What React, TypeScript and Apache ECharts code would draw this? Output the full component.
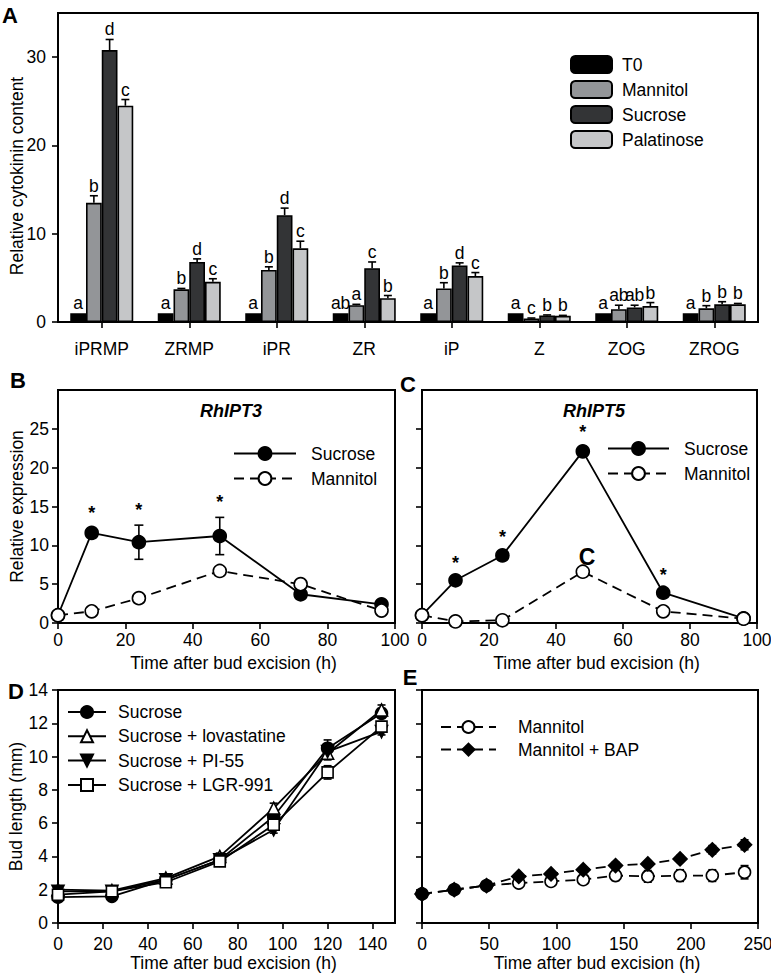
import React, { useEffect, useRef } from 'react';
import * as echarts from 'echarts';

const FONT = '"Liberation Sans", Arial, Helvetica, sans-serif';

// ---- Panel A : cytokinin content ----
const cytokinins = ['iPRMP', 'ZRMP', 'iPR', 'ZR', 'iP', 'Z', 'ZOG', 'ZROG'];
const t0Content = [1, 1, 1, 1, 1, 1, 1, 1];
const mannitolContent = [13.5, 3.7, 5.9, 1.9, 3.8, 0.4, 1.45, 1.55];
const sucroseContent = [30.8, 6.8, 12.1, 6.1, 6.4, 0.75, 1.65, 2.0];
const palatinoseContent = [24.5, 4.55, 8.35, 2.7, 5.2, 0.7, 1.8, 2.0];
const t0Err = [0, 0, 0, 0, 0, 0, 0, 0];
const mannitolErr = [0.8, 0.1, 0.35, 0.1, 0.65, 0.05, 0.45, 0.3];
const sucroseErr = [1.2, 0.35, 0.8, 0.7, 0.3, 0.05, 0.25, 0.3];
const palatinoseErr = [0.7, 0.35, 0.8, 0.3, 0.4, 0.05, 0.4, 0.1];
const t0Letters = ['a', 'a', 'a', 'ab', 'a', 'a', 'a', 'a'];
const mannitolLetters = ['b', 'b', 'b', 'a', 'b', 'c', 'ab', 'b'];
const sucroseLetters = ['d', 'd', 'd', 'c', 'd', 'b', 'ab', 'b'];
const palatinoseLetters = ['c', 'c', 'c', 'b', 'c', 'b', 'b', 'b'];
const contentTicks = [0, 10, 20, 30];

// ---- Panels B, C : expression ----
const timesBC = [0, 10, 24, 48, 72, 96];
const ipt3Sucrose = [1, 11.6, 10.4, 11.2, 3.7, 2.4];
const ipt3SucroseErr = [0, 0.6, 2.2, 2.4, 0.3, 0.2];
const ipt3Mannitol = [1, 1.5, 3.2, 6.7, 5.0, 1.6];
const ipt3MannitolErr = [0, 0.2, 0.3, 0.3, 0.3, 0.2];
const ipt3Stars = [10, 24, 48];
const ipt5Sucrose = [1, 5.5, 8.7, 22.1, 3.9, 0.6];
const ipt5SucroseErr = [0, 0.3, 0.4, 0.6, 0.3, 0.1];
const ipt5Mannitol = [1, 0.2, 0.35, 6.6, 1.5, 0.55];
const ipt5MannitolErr = [0, 0.05, 0.1, 0.3, 0.2, 0.1];
const ipt5Stars = [10, 24, 48, 72];
const exprTicks = [0, 5, 10, 15, 20, 25];

// ---- Panel D : bud length ----
const timesD = [0, 24, 48, 72, 96, 120, 144];
const budSucrose = [1.55, 1.6, 2.6, 3.8, 6.4, 10.5, 12.6];
const budSucroseErr = [0.1, 0.1, 0.1, 0.2, 0.4, 0.5, 0.3];
const budLovastatine = [2.0, 1.95, 2.7, 4.0, 6.9, 10.2, 12.8];
const budLovastatineErr = [0.1, 0.1, 0.1, 0.2, 0.3, 0.4, 0.3];
const budPI55 = [1.9, 1.9, 2.6, 3.8, 5.6, 10.3, 11.5];
const budPI55Err = [0.1, 0.1, 0.1, 0.2, 0.2, 0.4, 0.2];
const budLGR = [1.7, 1.9, 2.45, 3.7, 5.9, 9.05, 11.8];
const budLGRErr = [0.1, 0.1, 0.1, 0.2, 0.3, 0.4, 0.3];
const timeTicksD = [0, 20, 40, 60, 80, 100, 120, 140];

// ---- Panel E : bud length with BAP ----
const timesE = [0, 24, 48, 72, 96, 120, 144, 168, 192, 216, 240];
const budMannitol = [1.75, 2.0, 2.25, 2.4, 2.5, 2.6, 2.85, 2.8, 2.85, 2.85, 3.05];
const budMannitolErr = [0.05, 0.05, 0.1, 0.15, 0.15, 0.2, 0.3, 0.35, 0.35, 0.35, 0.4];
const budBAP = [1.75, 2.0, 2.25, 2.8, 2.95, 3.2, 3.45, 3.55, 3.85, 4.4, 4.7];
const budBAPErr = [0.05, 0.05, 0.1, 0.1, 0.1, 0.15, 0.2, 0.15, 0.2, 0.25, 0.3];

const BLACK = '#000000';
const barColors = ['#000000', '#939598', '#333436', '#c5c6c8'];

const fmtName = (n: string) => n.split(':')[1];

function axisBase() {
  return {
    axisLine: { show: true, lineStyle: { color: BLACK, width: 2 } },
    axisTick: { show: true, inside: false, length: 6, lineStyle: { color: BLACK, width: 1.6 } },
    axisLabel: { color: BLACK, fontSize: 17.5, fontFamily: FONT },
    splitLine: { show: false },
    nameTextStyle: { color: BLACK, fontSize: 17.5, fontFamily: FONT },
  };
}

function barErrSeries(k: number, vals: number[], errs: number[], letters: string[]) {
  return {
    type: 'custom',
    name: 'err' + k,
    xAxisIndex: 0,
    yAxisIndex: 0,
    z: 5,
    silent: true,
    data: vals.map((v, i) => [i, v, errs[i]]),
    encode: { x: 0, y: 1 },
    renderItem: (params: any, api: any) => {
      const i = api.value(0);
      const v = api.value(1);
      const e = api.value(2);
      const band = api.size([1, 0])[0];
      const bw = (band * 0.72) / 4;
      const base = api.coord([i, v]);
      const cx = base[0] - band * 0.36 + bw * (k + 0.5);
      const top = api.coord([i, v + e])[1];
      const st = { stroke: BLACK, lineWidth: 1.6 };
      const children: any[] = [];
      if (e > 0) {
        children.push({ type: 'line', shape: { x1: cx, y1: base[1], x2: cx, y2: top }, style: st });
        children.push({ type: 'line', shape: { x1: cx - 4, y1: top, x2: cx + 4, y2: top }, style: st });
      }
      children.push({
        type: 'text',
        style: {
          text: letters[params.dataIndex],
          x: cx,
          y: top - 1,
          align: 'center',
          verticalAlign: 'bottom',
          fontSize: 17.5,
          fontFamily: FONT,
          fill: BLACK,
        },
      });
      return { type: 'group', children };
    },
  };
}

function errSeries(gi: number, xs: number[], ys: number[], es: number[], cap = 4.5) {
  return {
    type: 'custom',
    xAxisIndex: gi,
    yAxisIndex: gi,
    z: 1,
    silent: true,
    data: xs.map((x, i) => [x, ys[i], es[i]]),
    encode: { x: 0, y: 1 },
    renderItem: (params: any, api: any) => {
      const x = api.value(0);
      const y = api.value(1);
      const e = api.value(2);
      const t = api.coord([x, y + e]);
      const b = api.coord([x, Math.max(0, y - e)]);
      const st = { stroke: BLACK, lineWidth: 1.6 };
      const children: any[] = [];
      if (e > 0) {
        children.push({ type: 'line', shape: { x1: t[0], y1: t[1], x2: b[0], y2: b[1] }, style: st });
        children.push({ type: 'line', shape: { x1: t[0] - cap, y1: t[1], x2: t[0] + cap, y2: t[1] }, style: st });
        children.push({ type: 'line', shape: { x1: b[0] - cap, y1: b[1], x2: b[0] + cap, y2: b[1] }, style: st });
      }
      return { type: 'group', children };
    },
  };
}

function starSeries(gi: number, xs: number[], ys: number[], es: number[], stars: number[]) {
  return {
    type: 'custom',
    xAxisIndex: gi,
    yAxisIndex: gi,
    z: 6,
    silent: true,
    data: stars.map((t) => {
      const i = xs.indexOf(t);
      return [t, ys[i] + es[i]];
    }),
    encode: { x: 0, y: 1 },
    renderItem: (params: any, api: any) => {
      const p = api.coord([api.value(0), api.value(1)]);
      return {
        type: 'text',
        style: {
          text: '*',
          x: p[0],
          y: p[1] - 15,
          align: 'center',
          verticalAlign: 'middle',
          fontSize: 18,
          lineHeight: 12,
          fontWeight: 'bold',
          fontFamily: FONT,
          fill: BLACK,
        },
      };
    },
  };
}

function lineSeries(
  name: string,
  gi: number,
  xs: number[],
  ys: number[],
  opts: { symbol: string; size: number; filled: boolean; dashed: boolean; rotate?: number }
) {
  return {
    type: 'line',
    name,
    xAxisIndex: gi,
    yAxisIndex: gi,
    z: 3,
    data: xs.map((x, i) => [x, ys[i]]),
    symbol: opts.symbol,
    symbolSize: opts.size,
    symbolRotate: opts.rotate || 0,
    showAllSymbol: true,
    lineStyle: { color: BLACK, width: 1.8, type: opts.dashed ? [10, 6] : 'solid' },
    itemStyle: {
      color: opts.filled ? BLACK : '#ffffff',
      borderColor: BLACK,
      borderWidth: 1.6,
    },
    emphasis: { disabled: true },
  };
}

function buildOption() {
  const grids = [
    { left: 58, top: 13, width: 700, height: 309 },
    { left: 58, top: 390, width: 337, height: 233 },
    { left: 422, top: 390, width: 335, height: 233 },
    { left: 58, top: 690, width: 337, height: 233 },
    { left: 422, top: 690, width: 336, height: 233 },
  ].map((g) => ({
    ...g,
    show: true,
    borderColor: BLACK,
    borderWidth: 2,
    backgroundColor: 'transparent',
    containLabel: false,
    outerBoundsMode: 'none',
  }));

  const b = axisBase;
  const timeName = 'Time after bud excision (h)';
  const xNameStyle = { color: BLACK, fontSize: 17.5, fontFamily: FONT, padding: [0, 0, 0, 14] };

  const xAxes = [
    {
      ...b(),
      type: 'category',
      gridIndex: 0,
      data: cytokinins,
      axisTick: { ...b().axisTick, alignWithLabel: true },
      axisLabel: { ...b().axisLabel, margin: 18 },
    },
    {
      ...b(),
      type: 'value',
      gridIndex: 1,
      min: 0,
      max: 100,
      interval: 20,
      axisLabel: { ...b().axisLabel, margin: 8 },
      name: timeName,
      nameLocation: 'middle',
      nameGap: 31,
      nameTextStyle: xNameStyle,
    },
    {
      ...b(),
      type: 'value',
      gridIndex: 2,
      min: 0,
      max: 100,
      interval: 20,
      axisLabel: { ...b().axisLabel, margin: 8 },
      name: timeName,
      nameLocation: 'middle',
      nameGap: 31,
      nameTextStyle: xNameStyle,
    },
    {
      ...b(),
      type: 'value',
      gridIndex: 3,
      min: 0,
      max: 150,
      interval: 10,
      axisTick: { ...b().axisTick, customValues: timeTicksD },
      axisLabel: { ...b().axisLabel, margin: 12, customValues: timeTicksD },
      name: timeName,
      nameLocation: 'middle',
      nameGap: 30,
      nameTextStyle: xNameStyle,
    },
    {
      ...b(),
      type: 'value',
      gridIndex: 4,
      min: 0,
      max: 250,
      interval: 50,
      axisLabel: { ...b().axisLabel, margin: 12 },
      name: timeName,
      nameLocation: 'middle',
      nameGap: 30,
      nameTextStyle: xNameStyle,
    },
  ];

  const yAxes = [
    {
      ...b(),
      type: 'value',
      gridIndex: 0,
      min: 0,
      max: 35,
      interval: 5,
      axisTick: { ...b().axisTick, customValues: contentTicks },
      axisLabel: { ...b().axisLabel, margin: 12, customValues: contentTicks },
    },
    {
      ...b(),
      type: 'value',
      gridIndex: 1,
      min: 0,
      max: 30,
      interval: 5,
      axisTick: { ...b().axisTick, customValues: exprTicks },
      axisLabel: { ...b().axisLabel, margin: 9, customValues: exprTicks },
      name: 'Relative expression',
      nameLocation: 'middle',
      nameGap: 31,
    },
    {
      ...b(),
      type: 'value',
      gridIndex: 2,
      min: 0,
      max: 30,
      interval: 5,
      axisTick: { ...b().axisTick, customValues: exprTicks },
      axisLabel: { show: false },
    },
    {
      ...b(),
      type: 'value',
      gridIndex: 3,
      min: 0,
      max: 14,
      interval: 2,
      axisLabel: { ...b().axisLabel, margin: 10 },
      name: 'Bud length (mm)',
      nameLocation: 'middle',
      nameGap: 31,
    },
    {
      ...b(),
      type: 'value',
      gridIndex: 4,
      min: 0,
      max: 14,
      interval: 2,
      axisLabel: { show: false },
    },
  ];

  const barData = [
    ['A:T0', t0Content, t0Err, t0Letters],
    ['A:Mannitol', mannitolContent, mannitolErr, mannitolLetters],
    ['A:Sucrose', sucroseContent, sucroseErr, sucroseLetters],
    ['A:Palatinose', palatinoseContent, palatinoseErr, palatinoseLetters],
  ] as [string, number[], number[], string[]][];

  const series: any[] = [];
  barData.forEach(([name, vals], k) => {
    series.push({
      type: 'bar',
      name,
      xAxisIndex: 0,
      yAxisIndex: 0,
      data: vals,
      barGap: '0%',
      barCategoryGap: '28%',
      itemStyle: { color: barColors[k], borderColor: BLACK, borderWidth: 1.6 },
      emphasis: { disabled: true },
    });
  });
  barData.forEach(([, vals, errs, letters], k) => series.push(barErrSeries(k, vals, errs, letters)));

  // Panel B
  series.push(lineSeries('B:Sucrose', 1, timesBC, ipt3Sucrose, { symbol: 'circle', size: 13, filled: true, dashed: false }));
  series.push(lineSeries('B:Mannitol', 1, timesBC, ipt3Mannitol, { symbol: 'circle', size: 13, filled: false, dashed: true }));
  series.push(errSeries(1, timesBC, ipt3Sucrose, ipt3SucroseErr));
  series.push(errSeries(1, timesBC, ipt3Mannitol, ipt3MannitolErr));
  series.push(starSeries(1, timesBC, ipt3Sucrose, ipt3SucroseErr, ipt3Stars));

  // Panel C
  series.push(lineSeries('C:Sucrose', 2, timesBC, ipt5Sucrose, { symbol: 'circle', size: 13, filled: true, dashed: false }));
  series.push(lineSeries('C:Mannitol', 2, timesBC, ipt5Mannitol, { symbol: 'circle', size: 13, filled: false, dashed: true }));
  series.push(errSeries(2, timesBC, ipt5Sucrose, ipt5SucroseErr));
  series.push(errSeries(2, timesBC, ipt5Mannitol, ipt5MannitolErr));
  series.push(starSeries(2, timesBC, ipt5Sucrose, ipt5SucroseErr, ipt5Stars));

  // Panel D
  series.push(lineSeries('D:Sucrose', 3, timesD, budSucrose, { symbol: 'circle', size: 12, filled: true, dashed: false }));
  series.push(lineSeries('D:Sucrose + lovastatine', 3, timesD, budLovastatine, { symbol: 'triangle', size: 12, filled: false, dashed: false }));
  series.push(lineSeries('D:Sucrose + PI-55', 3, timesD, budPI55, { symbol: 'triangle', size: 12, filled: true, dashed: false, rotate: 180 }));
  series.push(lineSeries('D:Sucrose + LGR-991', 3, timesD, budLGR, { symbol: 'rect', size: 11, filled: false, dashed: false }));
  series.push(errSeries(3, timesD, budSucrose, budSucroseErr, 4));
  series.push(errSeries(3, timesD, budLovastatine, budLovastatineErr, 4));
  series.push(errSeries(3, timesD, budPI55, budPI55Err, 4));
  series.push(errSeries(3, timesD, budLGR, budLGRErr, 4));

  // Panel E
  series.push(lineSeries('E:Mannitol', 4, timesE, budMannitol, { symbol: 'circle', size: 12, filled: false, dashed: true }));
  series.push(lineSeries('E:Mannitol + BAP', 4, timesE, budBAP, { symbol: 'diamond', size: 14, filled: true, dashed: true }));
  series.push(errSeries(4, timesE, budMannitol, budMannitolErr, 4));
  series.push(errSeries(4, timesE, budBAP, budBAPErr, 4));

  const legendText = (pad: number) => ({
    color: BLACK,
    fontSize: 17.5,
    fontFamily: FONT,
    lineHeight: 17,
    padding: [0, 0, 0, pad],
  });

  const legends = [
    {
      data: ['A:T0', 'A:Mannitol', 'A:Sucrose', 'A:Palatinose'],
      left: 570, top: 55, itemWidth: 41, itemHeight: 17, itemGap: 6, pad: 5,
    },
    { data: ['B:Sucrose', 'B:Mannitol'], left: 233, top: 444.5, itemWidth: 62, itemHeight: 16, itemGap: 7, pad: 10 },
    { data: ['C:Sucrose', 'C:Mannitol'], left: 607, top: 439.5, itemWidth: 61, itemHeight: 16, itemGap: 7, pad: 10 },
    {
      data: ['D:Sucrose', 'D:Sucrose + lovastatine', 'D:Sucrose + PI-55', 'D:Sucrose + LGR-991'],
      left: 67, top: 703, itemWidth: 38, itemHeight: 15, itemGap: 6.3, pad: 7,
    },
    { data: ['E:Mannitol', 'E:Mannitol + BAP'], left: 440, top: 718, itemWidth: 55, itemHeight: 15, itemGap: 4.6, pad: 17 },
  ].map((l) => ({
    show: true,
    orient: 'vertical',
    data: l.data,
    left: l.left,
    top: l.top,
    itemWidth: l.itemWidth,
    itemHeight: l.itemHeight,
    itemGap: l.itemGap,
    padding: 0,
    selectedMode: false,
    formatter: fmtName,
    textStyle: legendText(l.pad),
  }));

  const txt = (text: string, x: number, y: number, extra: any = {}, rotation = 0) => ({
    type: 'text',
    x,
    y,
    rotation,
    style: {
      text,
      fill: BLACK,
      fontFamily: FONT,
      fontSize: 22,
      fontWeight: 'bold',
      align: 'center',
      verticalAlign: 'middle',
      ...extra,
    },
  });

  const graphic = [
    txt('A', 10, 15),
    txt('B', 18, 380),
    txt('C', 408, 384),
    txt('D', 16, 691),
    txt('E', 410, 677),
    txt('RhIPT3', 231, 411, { fontSize: 18, fontStyle: 'italic' }),
    txt('RhIPT5', 594, 411, { fontSize: 18, fontStyle: 'italic' }),
    txt('C', 587, 557, { fontSize: 23 }),
    txt('Relative cytokinin content', 17, 176, { fontSize: 17.5, fontWeight: 'normal' }, Math.PI / 2),
  ];

  return {
    animation: false,
    backgroundColor: '#ffffff',
    textStyle: { fontFamily: FONT },
    grid: grids,
    xAxis: xAxes,
    yAxis: yAxes,
    legend: legends,
    series,
    graphic,
  };
}

export default function App() {
  const ref = useRef<HTMLDivElement>(null);
  useEffect(() => {
    if (!ref.current) return;
    const chart = echarts.init(ref.current, undefined, { renderer: 'svg' });
    chart.setOption(buildOption() as any);
    return () => chart.dispose();
  }, []);
  return (
    <div
      ref={ref}
      style={{ position: 'absolute', left: 0, top: 0, width: 771, height: 974, background: '#fff' }}
    />
  );
}
